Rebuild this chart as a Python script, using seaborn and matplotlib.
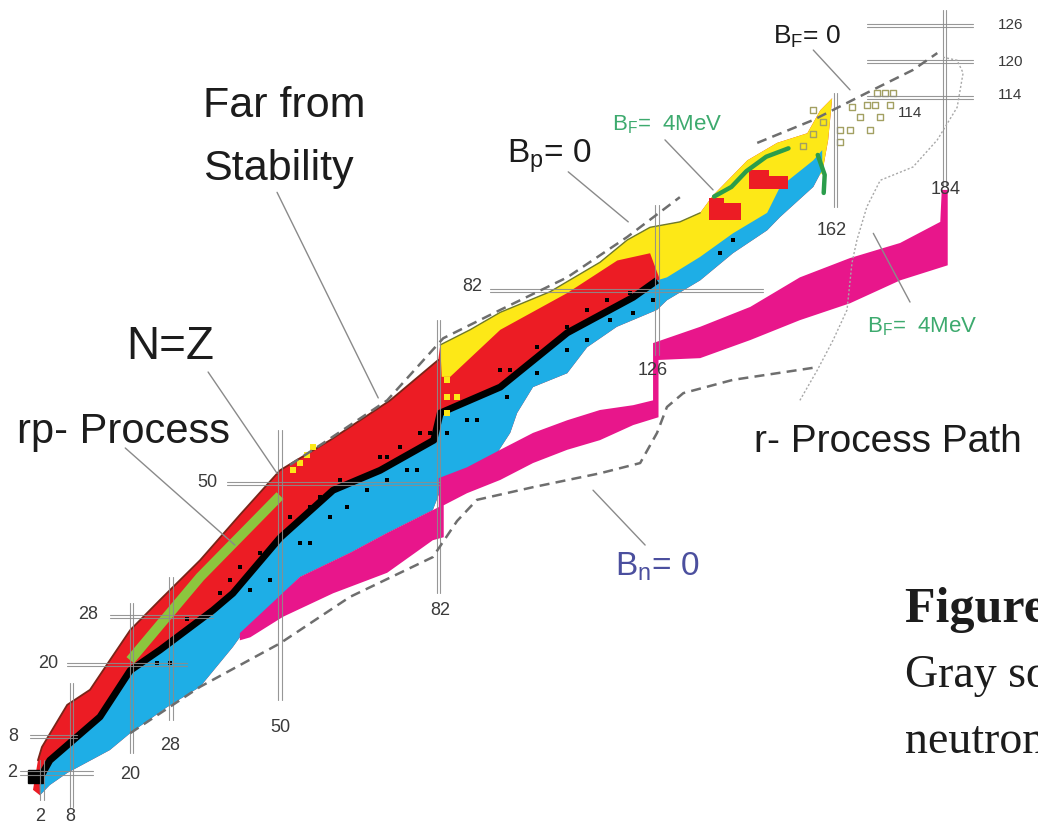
"""
Chart of the nuclides with the rp- and r-process paths, the drip lines
and the magic numbers, redrawn with seaborn / matplotlib.
"""

import numpy as np
import seaborn as sns
import matplotlib.pyplot as plt

# ---- values (N = neutron number, Z = proton number) ----

# proton-rich edge of the known nuclei, lower left -> top right -> down the right side
top_n = [0.2, 1.2, 2.0, 7.1, 11.7, 15.7, 19.8, 25.8, 33.9, 41.9, 50.0, 54.0,
         60.1, 72.2, 81.9, 82.3, 88.3, 94.4, 104.4, 114.5, 120.0, 124.6,
         130.6, 134.7, 137.3, 144.2, 150.2, 156.3, 158.9, 161.3, 160.5, 159.3]
top_z = [-0.8, 4.1, 6.3, 13.3, 15.8, 20.7, 25.7, 30.7, 37.3, 44.8, 52.2, 54.2,
         57.2, 63.8, 70.5, 73.0, 75.5, 78.4, 81.8, 86.7, 90.4, 92.5,
         93.4, 94.9, 97.8, 103.6, 106.5, 108.1, 111.9, 113.9, 107.0, 101.5]

# neutron-rich edge of the known nuclei, top right back to the origin
low_n = [159.3, 157.5, 150.8, 148.2, 141.3, 134.7, 128.0, 126.0, 117.9, 111.9,
         107.9, 101.0, 97.8, 96.4, 93.8, 82.9, 80.8, 71.6, 64.1, 54.0, 42.5,
         40.5, 33.9, 27.2, 19.8, 15.7, 7.1, 3.6, 1.6]
low_z = [102.0, 99.2, 94.2, 92.0, 88.2, 83.7, 80.4, 78.8, 76.0, 72.6,
         68.3, 66.0, 61.7, 58.4, 55.1, 50.1, 45.6, 41.8, 38.5, 34.5, 25.2,
         22.9, 16.3, 12.9, 8.6, 5.8, 2.0, 0.0, -1.7]

# valley of stability (black band)
stab_n = [1.5, 3.6, 13.7, 19.8, 25.8, 36.5, 40.5, 50.0, 60.7, 70.2, 81.0,
          82.3, 94.4, 107.9, 121.2, 126.0]
stab_z = [1.0, 4.1, 11.3, 19.0, 22.4, 29.0, 31.8, 41.0, 48.9, 52.2, 57.2,
          61.7, 66.0, 75.0, 80.9, 83.7]

# upper edge of the neutron-rich (blue) nuclei beyond N = 126
heavy_n = [128.0, 134.7, 141.3, 148.2, 150.8, 157.5, 159.3]
heavy_z = [84.2, 87.6, 91.5, 94.9, 99.2, 103.6, 105.3]

# lower edge of the yellow region, right to left
yel_n = [150.8, 141.3, 134.7, 128.0, 126.5, 124.6, 118.0, 107.9, 94.4, 84.3, 82.6]
yel_z = [96.0, 89.0, 84.0, 80.5, 84.0, 88.2, 87.0, 81.6, 75.5, 67.7, 67.7]

# proton-rich pockets among the heaviest known nuclei
redtop_n = [136.5, 143.0, 143.0, 139.5, 139.5, 136.5]
redtop_z = [93.7, 93.7, 96.5, 96.5, 97.3, 97.3]
redbar_n = [144.5, 152.5, 152.5, 148.5, 148.5, 144.5]
redbar_z = [98.8, 98.8, 101.0, 101.0, 102.0, 102.0]
edge_green = [([137.5, 141.0, 144.0, 148.0, 152.5], [97.6, 99.2, 101.8, 104.2, 105.6]),
              ([158.4, 159.8, 159.6], [104.5, 101.2, 98.2])]

# rp-process along N = Z
rp_n = [19.8, 33.9, 50.0]
rp_z = [20.7, 34.5, 48.0]

# r-process path: upper edge left -> right, lower edge right -> left
rpath_top_n = [41.9, 54.0, 64.1, 71.6, 80.8, 82.0, 82.0, 87.7, 94.4, 101.0, 107.9,
               114.5, 121.2, 125.2, 125.2, 134.7, 144.8, 154.8, 164.9, 175.0,
               183.1, 183.4, 184.6]
rpath_top_z = [25.2, 34.5, 38.5, 41.8, 45.6, 46.1, 50.9, 52.7, 55.6, 58.4, 60.5,
               62.2, 63.0, 63.8, 73.3, 76.0, 79.3, 84.2, 87.4, 89.9,
               93.4, 98.7, 98.7]
rpath_low_n = [184.6, 175.0, 164.9, 154.8, 144.8, 134.7, 126.3, 126.3, 121.2, 114.5,
               107.9, 101.0, 94.4, 87.7, 83.0, 83.0, 80.8, 71.6, 60.7, 50.6, 44.0, 41.9]
rpath_low_z = [86.2, 83.7, 79.9, 77.1, 73.8, 70.8, 70.5, 61.0, 59.7, 57.2,
               55.6, 53.4, 50.6, 48.4, 46.4, 41.1, 40.6, 35.2, 31.8, 27.9, 24.5, 24.0]

# drip lines
bn_n = [19.8, 33.9, 50.0, 64.1, 80.8, 85.7, 89.7, 101.0, 114.5, 122.6, 126.0,
        128.0, 131.3, 141.3, 158.3]
bn_z = [8.6, 16.3, 23.5, 31.2, 37.8, 43.8, 47.3, 49.4, 51.7, 53.4, 58.4,
        62.7, 65.0, 67.2, 69.3]
bp_n = [52.0, 58.7, 71.6, 82.9, 94.4, 107.9, 120.0, 130.6, np.nan,
        146.2, 157.5, 168.3, 177.6, 182.5]
bp_z = [53.1, 56.7, 63.8, 74.1, 78.8, 84.2, 90.9, 97.5, np.nan,
        106.5, 110.3, 114.8, 118.6, 121.4]
bf_n = [154.8, 158.3, 161.5, 164.3, 165.3, 166.3, 168.3, 171.0, 177.6, 182.5,
        186.5, 187.7, 186.5, 183.7]
bf_z = [63.8, 68.8, 73.8, 78.8, 86.6, 90.4, 95.9, 100.3, 102.5, 107.0,
        112.4, 118.1, 120.2, 120.7]

# stable nuclei marked inside the proton-rich / neutron-rich areas
dot_n = [52.0, 56.0, 46.0, 41.9, 39.9, 37.9, 58.1, 62.1, 70.2, 71.6, 74.2, 78.2,
         80.2, 94.4, 96.4, 101.8, 107.9, 111.9, 115.9, 120.6,
         54.0, 56.0, 48.0, 44.0, 60.1, 63.5, 67.5, 71.6, 75.6, 77.6, 83.7, 87.7,
         89.7, 95.8, 101.8, 107.9, 111.9, 116.5, 121.2, 125.2, 138.7, 141.3,
         25.2, 27.8, 31.3]
dot_z = [44.4, 46.1, 38.5, 36.2, 34.0, 31.8, 47.8, 50.6, 54.4, 54.4, 56.1, 58.4,
         58.4, 68.8, 68.8, 72.6, 76.0, 78.8, 80.4, 81.6,
         40.1, 40.1, 34.0, 32.3, 44.4, 46.1, 48.9, 50.6, 52.2, 52.2, 58.4, 60.5,
         60.5, 64.3, 68.3, 72.1, 73.8, 77.1, 78.3, 80.4, 88.2, 90.4,
         20.2, 20.2, 27.5]

# yellow cells scattered along the proton-rich edge
ycell_n = [52.6, 54.0, 55.4, 56.7, 83.7, 83.7, 83.7, 85.7]
ycell_z = [52.2, 53.4, 54.7, 56.0, 61.7, 64.4, 67.2, 64.4]

# superheavy nuclei (open squares)
sh_n = [165.3, 170.4, 172.0, 173.6, 168.3, 170.0, 173.0, 166.9, 171.0, 162.9,
        164.9, 168.9, 162.9, 157.5, 159.5, 157.5, 155.5]
sh_z = [112.4, 114.8, 114.8, 114.8, 112.8, 112.8, 112.8, 110.8, 110.8, 108.6,
        108.6, 108.6, 106.6, 112.0, 110.0, 108.0, 106.0]

# magic numbers and the extent of their guide lines
magic_n = [2, 8, 20, 28, 50, 82, 126, 162, 184]
magic_n_lo = [-2.5, -3.6, 5.3, 10.8, 14.1, 31.8, 71.3, 95.9, 99.2]
magic_n_hi = [4.1, 16.9, 30.2, 34.5, 58.9, 77.1, 96.2, 114.8, 128.5]
magic_z = [2, 8, 20, 28, 50, 82, 114, 120, 126]
magic_z_lo = [-2.4, -0.4, 7.1, 15.7, 39.3, 92.3, 168.3, 168.3, 168.3]
magic_z_hi = [12.3, 9.1, 31.3, 36.5, 82.3, 147.4, 189.7, 189.7, 189.7]

# ---- colours ----
RED = "#ec1c24"
BLUE = "#1eaee6"
YELLOW = "#fde817"
MAGENTA = "#e8168b"
LIME = "#8cc63e"
DKGREEN = "#2a9d4b"
GREY = "#8c8c8c"


def double_v(ax, n, z0, z1):
    for d in (-0.33, 0.33):
        ax.plot([n + d, n + d], [z0, z1], color=GREY, lw=0.8, alpha=0.9, zorder=8)


def double_h(ax, z, n0, n1):
    for d in (-0.27, 0.27):
        ax.plot([n0, n1], [z + d, z + d], color=GREY, lw=0.8, alpha=0.9, zorder=8)


def main():
    sns.set_theme(style="white")
    plt.rcParams["font.family"] = ["Liberation Sans", "DejaVu Sans"]
    narrow = ["Liberation Sans Narrow", "Liberation Sans", "DejaVu Sans"]

    fig = plt.figure(figsize=(10.38, 8.25), dpi=100)
    ax = fig.add_axes([0, 0, 1, 1])
    ax.set_xlim(-6.45, 202.8)
    ax.set_ylim(-6.63, 130.2)
    ax.axis("off")

    # known nuclei: red envelope, yellow far proton-rich, blue neutron-rich
    ax.fill(top_n + low_n, top_z + low_z, color=RED, lw=0, zorder=1)
    ax.fill(top_n[15:] + yel_n, top_z[15:] + yel_z, color=YELLOW, lw=0, zorder=2)
    ax.fill(stab_n + heavy_n + low_n, stab_z + heavy_z + low_z,
            color=BLUE, lw=0, zorder=3)
    ax.fill(redtop_n, redtop_z, color=RED, lw=0, zorder=4)
    ax.fill(redbar_n, redbar_z, color=RED, lw=0, zorder=4)
    for gn, gz in edge_green:
        ax.plot(gn, gz, color=DKGREEN, lw=3.2, zorder=4)
    ax.plot(top_n[1:15], top_z[1:15], color="#7a2418", lw=1.3, zorder=4)
    ax.plot(top_n[15:24], top_z[15:24], color="#6f7a2a", lw=1.0, zorder=4)

    # rp-process and the line of stability
    sns.lineplot(x=rp_n, y=rp_z, sort=False, estimator=None, color=LIME,
                 lw=7, ax=ax, zorder=5, solid_capstyle="butt")
    sns.lineplot(x=stab_n, y=stab_z, sort=False, estimator=None, color="black",
                 lw=5, ax=ax, zorder=5, solid_capstyle="butt")
    ax.fill([-0.8, 2.2, 2.2, -0.8], [0.3, 0.3, 2.5, 2.5], color="black", zorder=5)

    sns.scatterplot(x=dot_n, y=dot_z, marker="s", s=10, color="black",
                    linewidth=0, ax=ax, zorder=6)
    sns.scatterplot(x=ycell_n, y=ycell_z, marker="s", s=22, color=YELLOW,
                    linewidth=0, ax=ax, zorder=6)

    # r-process path
    ax.fill(rpath_top_n + rpath_low_n, rpath_top_z + rpath_low_z,
            color=MAGENTA, lw=0, zorder=7)

    ax.scatter(sh_n, sh_z, marker="s", s=20, facecolors="none",
               edgecolors="#a3a062", linewidths=1.0, zorder=7)

    # magic numbers
    for n, lo, hi in zip(magic_n, magic_n_lo, magic_n_hi):
        double_v(ax, n, lo, hi)
    for z, lo, hi in zip(magic_z, magic_z_lo, magic_z_hi):
        double_h(ax, z, lo, hi)

    lab = dict(color="#3a3a3a", fontsize=13, family=narrow,
               ha="center", va="center", zorder=9)
    n_pos = {"2": (1.6, -5.3), "8": (7.7, -5.3), "20": (19.8, 1.7),
             "28": (27.8, 6.6), "50": (50.0, 9.6), "82": (82.3, 29.0),
             "126": (125.2, 68.8), "162": (161.3, 92.0), "184": (184.1, 98.7)}
    z_pos = {"2": (-4.0, 2.0), "8": (-3.8, 8.0), "20": (3.2, 20.2),
             "28": (11.3, 28.2), "50": (35.3, 50.1), "82": (88.7, 82.6)}
    for t, (x, y) in list(n_pos.items()) + list(z_pos.items()):
        ax.text(x, y, t, **lab)
    for t, y in (("114", 114.4), ("120", 119.9), ("126", 126.0)):
        ax.text(197.2, y, t, **{**lab, "fontsize": 11})
    ax.text(177.0, 111.4, "114", **{**lab, "fontsize": 11})

    # drip lines
    ax.plot(bn_n, bn_z, color="#6e6e6e", lw=1.8, ls=(0, (4, 2.5)), zorder=9)
    ax.plot(bp_n, bp_z, color="#6e6e6e", lw=1.8, ls=(0, (4, 2.5)), zorder=9)
    ax.plot(bf_n, bf_z, color="#a8a8a8", lw=1.0, ls=(0, (1.5, 1.5)), zorder=9)

    # pointer lines
    pointers = [((49.4, 69.8), (98.3, 64.2)), ((35.5, 49.4), (68.5, 51.7)),
                ((18.8, 40.9), (55.9, 39.8)), ((108.1, 120.2), (101.7, 93.4)),
                ((127.6, 137.3), (107.0, 98.7)), ((157.5, 164.9), (121.9, 115.3)),
                ((177.0, 169.6), (80.1, 91.5)), ((113.1, 123.6), (48.9, 39.8))]
    for xs, ys in pointers:
        ax.plot(xs, ys, color="#8a8a8a", lw=1.0, zorder=9)

    # annotations
    big = dict(color="#1c1c1c", ha="left", va="baseline", zorder=10)
    ax.text(34.5, 110.8, "Far from", fontsize=31, **big)
    ax.text(34.5, 100.3, "Stability", fontsize=31, **big)
    ax.text(19.0, 70.6, "N=Z", fontsize=33, **big)
    ax.text(-3.0, 56.7, "rp- Process", fontsize=30, **big)
    ax.text(145.6, 55.2, "r- Process Path", fontsize=28, **big)

    ax.text(95.8, 103.2, r"$\mathregular{B_p}$= 0", fontsize=24,
            family=narrow, **big)
    ax.text(149.4, 123.0, r"$\mathregular{B_F}$= 0", fontsize=19,
            family=narrow, **big)
    ax.text(116.9, 108.6, r"$\mathregular{B_F}$=  4MeV", fontsize=16,
            family=narrow, **{**big, "color": "#3daa6e"})
    ax.text(168.3, 75.0, r"$\mathregular{B_F}$=  4MeV", fontsize=16,
            family=narrow, **{**big, "color": "#3daa6e"})
    ax.text(117.5, 34.8, r"$\mathregular{B_n}$= 0", fontsize=24,
            family=narrow, **{**big, "color": "#4b4f9e"})

    # caption of the source page, cut by the right edge as in the original
    serif = ["Liberation Serif", "DejaVu Serif"]
    ax.text(176.0, 27.0, "Figure 1.", fontsize=36, fontweight="bold",
            family=serif, **big)
    ax.text(176.0, 16.3, "Gray squares", fontsize=33, family=serif, **big)
    ax.text(176.0, 5.3, "neutron", fontsize=33, family=serif, **big)

    fig.savefig("out.png", dpi=100)


if __name__ == "__main__":
    main()
